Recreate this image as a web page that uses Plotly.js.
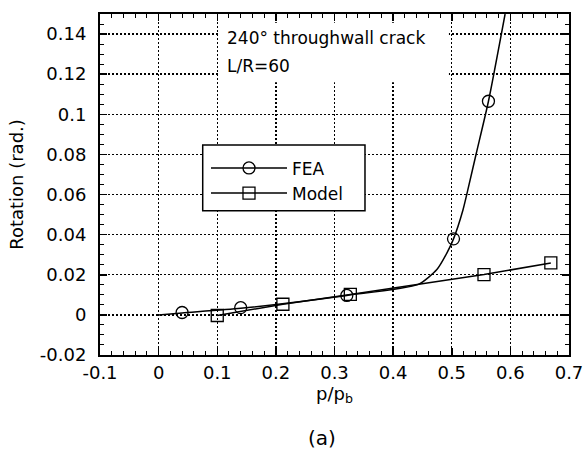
<!DOCTYPE html>
<html><head><meta charset="utf-8">
<script src="https://cdn.plot.ly/plotly-3.0.1.min.js"></script>
<style>body{margin:0;background:#fff}#c{width:586px;height:455px}</style>
</head><body><div id="c"></div>
<script>
// FEA sample points (circles)
const feaX = [0.04, 0.14, 0.321, 0.503, 0.5626];
const feaY = [0.0012, 0.0036, 0.0097, 0.0379, 0.1065];
// FEA curve
const feaCurveX = [0, 0.04, 0.14, 0.321, 0.443, 0.4746, 0.4916, 0.503, 0.519, 0.5285, 0.5416, 0.5626, 0.591];
const feaCurveY = [0, 0.0010, 0.0033, 0.0097, 0.0152, 0.0226, 0.0308, 0.0379, 0.0522, 0.0637, 0.0802, 0.1065, 0.150];
// Model points (squares)
const modelX = [0.1, 0.212, 0.327, 0.555, 0.669];
const modelY = [-0.0003, 0.0053, 0.0102, 0.0201, 0.0259];
// Tick labels
const xTickVals = [-0.1, 0, 0.1, 0.2, 0.3, 0.4, 0.5, 0.6, 0.7];
const xTickText = ['-0.1', '0', '0.1', '0.2', '0.3', '0.4', '0.5', '0.6', '0.7'];
const yTickVals = [-0.02, 0, 0.02, 0.04, 0.06, 0.08, 0.1, 0.12, 0.14];
const yTickText = ['-0.02', '0', '0.02', '0.04', '0.06', '0.08', '0.1', '0.12', '0.14'];

const FF = 'DejaVu Sans, Liberation Sans, Arial, sans-serif';
const mk = (sym) => ({symbol: sym, size: 12, color: '#000', line: {color: '#000', width: 1.3}});

const traces = [
  {x: feaCurveX, y: feaCurveY, mode: 'lines', line: {color: '#000', width: 1.5, shape: 'spline', smoothing: 0.6}, showlegend: false, hoverinfo: 'skip'},
  {x: feaX, y: feaY, mode: 'markers', marker: mk('circle-open'), showlegend: false},
  {x: [null], y: [null], mode: 'lines+markers', name: 'FEA', line: {color: '#000', width: 1.5}, marker: mk('circle-open')},
  {x: modelX, y: modelY, mode: 'lines+markers', name: 'Model', line: {color: '#000', width: 1.5}, marker: mk('square-open')}
];

const axBase = {
  showline: true, linecolor: '#000', linewidth: 2, mirror: 'ticks',
  ticks: 'inside', ticklen: 7, tickwidth: 1.5, tickcolor: '#000',
  showgrid: true, gridcolor: '#000', gridwidth: 1.4, griddash: '2px,2px',
  zeroline: false, tickfont: {family: FF, size: 18, color: '#000'}
};

const layout = {
  width: 586, height: 455,
  margin: {l: 100, r: 17, t: 14, b: 100},
  paper_bgcolor: '#fff', plot_bgcolor: '#fff',
  font: {family: FF, color: '#000'},
  showlegend: true,
  legend: {x: 0.226, y: 0.6, xanchor: 'left', yanchor: 'top', bgcolor: 'rgba(0,0,0,0)', borderwidth: 0,
           font: {family: FF, size: 17, color: '#000'}, itemwidth: 76, tracegroupgap: 0},
  xaxis: Object.assign({}, axBase, {
    range: [-0.1, 0.7], tickmode: 'array', tickvals: xTickVals, ticktext: xTickText,
    minor: {dtick: 0.02, tick0: 0, ticks: 'inside', ticklen: 4, tickwidth: 1, tickcolor: '#000', showgrid: false},
    title: {text: 'p/p<sub>b</sub>', font: {family: FF, size: 18, color: '#000'}, standoff: 0}
  }),
  yaxis: Object.assign({}, axBase, {
    range: [-0.02, 0.15], tickmode: 'array', tickvals: yTickVals, ticktext: yTickText,
    ticklabelposition: 'outside', ticklabelstandoff: 8,
    minor: {dtick: 0.005, tick0: 0, ticks: 'inside', ticklen: 4, tickwidth: 1, tickcolor: '#000', showgrid: false},
    title: {text: 'Rotation (rad.)', font: {family: FF, size: 18, color: '#000'}, standoff: 12}
  }),
  shapes: [
    {type: 'rect', xref: 'paper', yref: 'paper', x0: 0.254, x1: 0.744, y0: 0.8, y1: 0.974, layer: 'above',
     fillcolor: '#fff', line: {width: 0}},
    {type: 'rect', xref: 'paper', yref: 'paper', x0: 0.219, x1: 0.565, y0: 0.423, y1: 0.616, layer: 'above',
     fillcolor: '#fff', line: {color: '#000', width: 1.5}}
  ],
  annotations: [
    {xref: 'paper', yref: 'paper', x: 0.2665, y: 0.9296, xanchor: 'left', yanchor: 'middle', showarrow: false,
     text: '240° throughwall crack', font: {family: FF, size: 17, color: '#000'}},
    {xref: 'paper', yref: 'paper', x: 0.2665, y: 0.8475, xanchor: 'left', yanchor: 'middle', showarrow: false,
     text: 'L/R=60', font: {family: FF, size: 17, color: '#000'}},
    {xref: 'paper', yref: 'paper', x: 0.473, y: -0.243, xanchor: 'center', yanchor: 'middle', showarrow: false,
     text: '(a)', font: {family: FF, size: 20, color: '#000'}}
  ]
};

Plotly.newPlot('c', traces, layout, {displayModeBar: false, staticPlot: true});
</script></body></html>
